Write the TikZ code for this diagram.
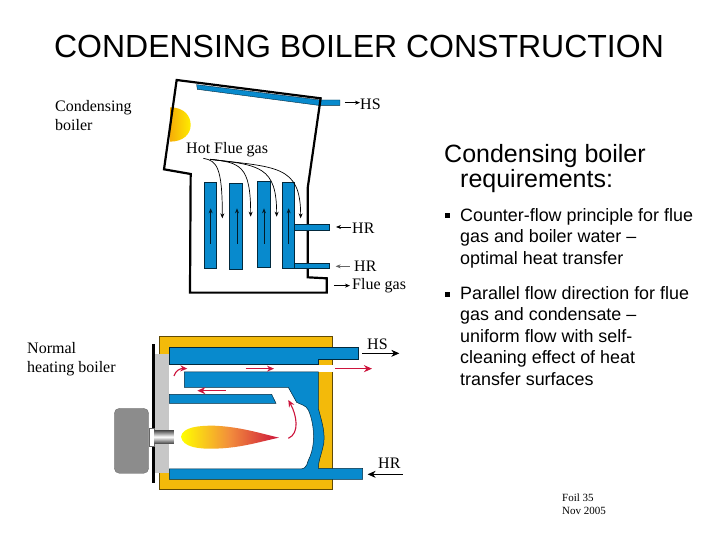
\documentclass[tikz,border=0pt]{standalone}
\usepackage{fontspec}
\setmainfont{Liberation Serif}
\setsansfont{Liberation Sans}
\usetikzlibrary{arrows.meta}
\definecolor{bblue}{RGB}{8,138,205}
\definecolor{byellow}{RGB}{243,186,10}
\definecolor{bred}{RGB}{205,20,60}
\definecolor{bflame}{RGB}{242,140,60}
\tikzset{
 x=1pt,y=-1pt,
 serif/.style={font=\fontsize{16}{19}\selectfont,inner sep=0,anchor=west,align=left,text=black},
 sans/.style={font=\sffamily\fontsize{17.9}{21.5}\selectfont,inner sep=0,anchor=north west,align=left,text=black},
 squarebullet/.style={fill=black,inner sep=0,minimum size=5pt},
 bluepart/.style={fill=bblue,draw=black!70!bblue,line width=0.5pt},
 thin arrow/.style={-{Stealth[length=5pt,width=4pt]},line width=0.7pt},
 red arrow/.style={-{Stealth[length=7pt,width=6pt]},draw=bred,line width=1.1pt},
 red big/.style={-{Stealth[length=8pt,width=7pt]},draw=bred,line width=1.6pt},
 black arrow/.style={-{Stealth[length=8pt,width=7pt]},line width=0.7pt},
 top/.style={shift={(160,70)},x=0.3333pt,y=-0.3333pt},
 low/.style={shift={(100,325)},x=0.3333pt,y=-0.3333pt},
}
\begin{document}
\begin{tikzpicture}
\useasboundingbox (0,0) rectangle (720,540);
\fill[white] (0,0) rectangle (720,540);
% upper boiler
\begin{scope}[top]
\shade[left color=byellow!80!orange,right color=yellow!85!orange] (30,112) .. controls (75,112) and (92,140) .. (92,165) .. controls (92,192) and (70,215) .. (30,215) -- cycle;
\fill[bblue,draw=black!70!bblue,line width=0.4pt] (110,44) -- (112,58) -- (475,106) -- (540,106) -- (540,90) -- (480,90) -- cycle;
\draw[line width=2.2pt,line join=miter] (50,30) -- (482,85) -- (443,355) -- (443,622) -- (500,625) -- (500,668) -- (90,668) -- (92,312) -- (12,298) -- cycle;
\foreach \xa/\ya/\xb/\yb in {132/337/170/595,208/340/247/597,292/335/330/593,366/337/404/595,404/463/508/480,404/580/508/596}
 \path[bluepart] (\xa,\ya) rectangle (\xb,\yb);
\foreach \xa in {152,231,312,386}
 \draw[thin arrow,black!80!bblue] (\xa,522) -- (\xa,415);
\draw[thin arrow] (130,265) .. controls (170,272) and (187,290) .. (187,445);
\draw[thin arrow] (150,268) .. controls (240,278) and (272,285) .. (272,440);
\draw[thin arrow] (150,268) .. controls (300,285) and (350,290) .. (350,440);
\draw[thin arrow] (150,268) .. controls (350,292) and (422,285) .. (422,445);
\coordinate (hsa) at (555,98); \coordinate (hsb) at (600,98);
\coordinate (hra) at (572,471); \coordinate (hrb) at (528,471);
\coordinate (hrc) at (570,589); \coordinate (hrd) at (527,589);
\coordinate (fga) at (522,647); \coordinate (fgb) at (570,647);
\draw[thin arrow] (hsa) -- (hsb);
\draw[thin arrow] (hra) -- (hrb);
\draw[thin arrow,black!60] (hrc) -- (hrd);
\draw[thin arrow] (fga) -- (fgb);
\end{scope}
% lower boiler
\begin{scope}[low]
\fill[byellow,draw=black!60!byellow,line width=0.4pt] (177,35) rectangle (697,493);
\fill[white] (208,119) rectangle (655,432);
\fill[white] (208,119) rectangle (700,141);
\fill[black!22] (165,88) rectangle (208,445);
\draw[black,line width=2.6pt] (160,58) -- (160,473);
\fill[black!45,draw=black!60,line width=0.3pt,rounded corners=5pt] (43,250) rectangle (146,445);
\fill[white,draw=black!60,line width=0.3pt] (146,308) rectangle (163,363);
\shade[top color=black!70,bottom color=black!70,middle color=white] (163,316) rectangle (222,355);
\path[bluepart] (208,68) -- (776,68) -- (776,103) -- (655,103) -- (655,119) -- (208,119) -- cycle;
\path[bluepart] (253,141) -- (655,141) -- (655,250) .. controls (665,290) and (680,330) .. (668,370) .. controls (662,395) and (655,410) .. (655,430) -- (788,430) -- (788,463) -- (208,463) -- (208,432) -- (600,432) .. controls (625,432) and (620,410) .. (630,395) .. controls (645,360) and (645,300) .. (625,255) .. controls (618,240) and (600,238) .. (590,232) -- (565,187) -- (253,187) -- cycle;
\path[bluepart] (208,208) -- (515,208) -- (528,235) -- (208,235) -- cycle;
\shade[left color=yellow,right color=bred,middle color=bflame] (243,335) .. controls (248,305) and (300,302) .. (340,302) .. controls (420,305) and (480,325) .. (537,338) .. controls (480,350) and (420,370) .. (340,371) .. controls (300,372) and (248,368) .. (243,335) -- cycle;
\draw[red arrow] (222,153) .. controls (226,138) and (240,130) .. (262,131);
\draw[red arrow] (437,131) -- (522,131);
\draw[red big] (378,197) -- (292,197);
\draw[red big] (706,131) -- (816,131);
\draw[red arrow] (565,340) .. controls (600,325) and (590,270) .. (565,225);
\coordinate (lhsa) at (787,85); \coordinate (lhsb) at (898,85);
\coordinate (lhra) at (908,448); \coordinate (lhrb) at (803,448);
\draw[black arrow] (lhsa) -- (lhsb);
\draw[black arrow] (lhra) -- (lhrb);
\end{scope}
% texts
\node[anchor=center,inner sep=0,font=\sffamily\fontsize{32}{38}\selectfont] (title) at (359,46) {CONDENSING BOILER CONSTRUCTION};
\node[serif,anchor=north west] (cb) at (55,100) {Condensing\\boiler};
\node[serif,anchor=north west] (nh) at (27,342) {Normal\\heating boiler};
\node[serif] (hs1) at (360,104) {HS};
\node[serif] (hot) at (186,150) {Hot Flue gas};
\node[serif] (hr1) at (352,228) {HR};
\node[serif] (hr2) at (354,266) {HR};
\node[serif] (fg) at (352,286) {Flue gas};
\node[serif] (hs2) at (367,344) {HS};
\node[serif] (hr3) at (378,463) {HR};
\node[inner sep=0,anchor=north west,align=left,font=\fontsize{11}{13}\selectfont] (foil) at (562,494) {Foil 35\\Nov 2005};
\node[inner sep=0,anchor=west,font=\sffamily\fontsize{25}{28}\selectfont] (rq1) at (444,156) {Condensing boiler};
\node[inner sep=0,anchor=west,font=\sffamily\fontsize{25}{28}\selectfont] (rq2) at (460,181) {requirements:};
\node[squarebullet] (b1m) at (447,216) {};
\node[sans] (b1) at (460,208) {Counter-flow principle for flue\\gas and boiler water --\\optimal heat transfer};
\node[squarebullet] (b2m) at (447,294) {};
\node[sans] (b2) at (460,286) {Parallel flow direction for flue\\gas and condensate --\\uniform flow with self-\\cleaning effect of heat\\transfer surfaces};
\end{tikzpicture}
\end{document}
